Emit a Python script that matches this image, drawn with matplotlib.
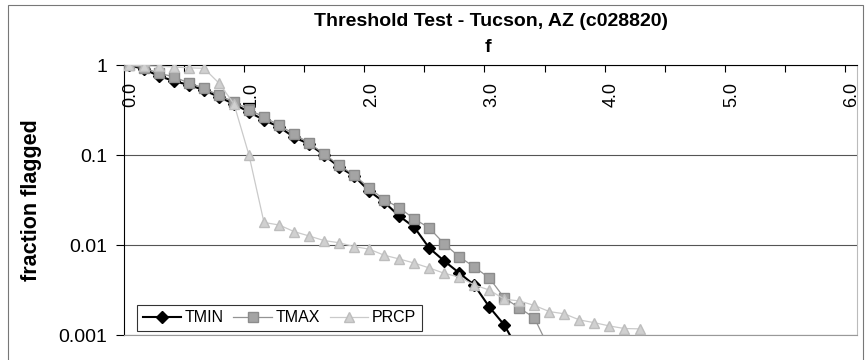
import numpy as np
import matplotlib
matplotlib.use("Agg")
import matplotlib.pyplot as plt
import matplotlib.transforms as mtransforms
from matplotlib.patches import Rectangle

plt.rcParams['font.family'] = ['Liberation Sans', 'DejaVu Sans']

# threshold f, one category every 0.125
f = [0.0, 0.125, 0.25, 0.375, 0.5, 0.625, 0.75, 0.875, 1.0, 1.125,
     1.25, 1.375, 1.5, 1.625, 1.75, 1.875, 2.0, 2.125, 2.25, 2.375,
     2.5, 2.625, 2.75, 2.875, 3.0, 3.125, 3.25, 3.375, 3.5, 3.625,
     3.75, 3.875, 4.0, 4.125, 4.25]

tmin = [1.0, 0.90, 0.755, 0.664, 0.60, 0.527, 0.441, 0.369, 0.30, 0.245,
        0.205, 0.158, 0.132, 0.100, 0.0736, 0.0584, 0.0398, 0.030, 0.021, 0.0158,
        0.00926, 0.00664, 0.00489, 0.00359, 0.00205, 0.00129, 0.00065]

tmax = [1.0, 0.93, 0.81, 0.74, 0.63, 0.555, 0.46, 0.39, 0.32, 0.264,
        0.215, 0.171, 0.136, 0.103, 0.077, 0.060, 0.043, 0.032, 0.026, 0.0195,
        0.0155, 0.0103, 0.0074, 0.0057, 0.0043, 0.00258, 0.0020, 0.00155, 0.0007]

prcp = [1.0, 0.98, 0.97, 0.95, 0.93, 0.92, 0.63, 0.37, 0.10, 0.0178,
        0.0167, 0.0141, 0.0126, 0.0112, 0.0106, 0.0096, 0.0090, 0.0077, 0.0070, 0.0063,
        0.00556, 0.00485, 0.0044, 0.0036, 0.00316, 0.0025, 0.00239, 0.00213, 0.00182, 0.00172,
        0.00147, 0.00137, 0.00126, 0.00118, 0.00117]

yticks = [1, 0.1, 0.01, 0.001]
ytick_labels = ['1', '0.1', '0.01', '0.001']
xticks = [0, 1, 2, 3, 4, 5, 6]
xtick_labels = ['0.0', '1.0', '2.0', '3.0', '4.0', '5.0', '6.0']

# excel puts points in the middle of each category slot
shift = 0.04

fig = plt.figure(figsize=(8.65, 3.6), dpi=100)
ax = fig.add_axes([124/865, 1-335/360, 733/865, 270/360])

fig.patches.append(Rectangle((8/865, -0.05), 855/865, 1-5/360+0.05,
                             transform=fig.transFigure, fill=False,
                             edgecolor='#777777', linewidth=0.8))

x = np.array(f)
ax.plot(x[:len(tmin)] + shift, tmin, color='black', linewidth=1.5, marker='D',
        markersize=6.5, markerfacecolor='black', markeredgecolor='black',
        label='TMIN', zorder=3)
ax.plot(x[:len(tmax)] + shift, tmax, color='#939393', linewidth=0.9, marker='s',
        markersize=6.5, markerfacecolor='#a4a4a4', markeredgecolor='#8c8c8c',
        label='TMAX', zorder=4)
ax.plot(x[:len(prcp)] + shift, prcp, color='#cacaca', linewidth=0.9, marker='^',
        markersize=7.5, markerfacecolor='#d0d0d0', markeredgecolor='#bdbdbd',
        label='PRCP', zorder=5)

ax.set_yscale('log')
ax.set_ylim(0.001, 1)
ax.set_xlim(0, 6.1)
ax.set_yticks(yticks)
ax.set_yticklabels(ytick_labels)
ax.yaxis.set_minor_locator(matplotlib.ticker.NullLocator())
ax.tick_params(axis='y', direction='out', length=6, width=0.8, labelsize=14, pad=6)

ax.xaxis.tick_top()
ax.set_xticks(xticks)
ax.set_xticklabels(xtick_labels)
ax.set_xticks(np.arange(0.5, 6.1, 1.0), minor=True)
ax.tick_params(axis='x', which='both', direction='in', length=5, width=0.8)
ax.tick_params(axis='x', which='major', labelsize=13, labelrotation=90, pad=-12)
offset = mtransforms.ScaledTranslation(5/72, 0, fig.dpi_scale_trans)
for lab in ax.get_xticklabels():
    lab.set_verticalalignment('top')
    lab.set_transform(lab.get_transform() + offset)

ax.grid(axis='y', which='major', color='#555555', linewidth=0.8)
ax.spines['top'].set_color('black')
ax.spines['left'].set_color('black')
ax.spines['bottom'].set_color('#999999')
ax.spines['right'].set_color('#bbbbbb')
ax.spines['bottom'].set_linewidth(0.8)
ax.spines['right'].set_linewidth(0.8)

ax.set_ylabel('fraction flagged', fontsize=15.5, fontweight='bold', labelpad=12)
fig.text(488/865, 1-47/360, 'f', fontsize=14, fontweight='bold', ha='center', va='center')
fig.text(491/865, 1-22/360, 'Threshold Test - Tucson, AZ (c028820)', fontsize=14,
         fontweight='bold', ha='center', va='center')

leg = ax.legend(loc='lower left', bbox_to_anchor=(0.0177, 0.0148), ncol=3,
                fontsize=11.5, frameon=True, fancybox=False, borderaxespad=0,
                handlelength=2.4, handletextpad=0.25, columnspacing=0.6,
                borderpad=0.35)
leg.get_frame().set_edgecolor('black')
leg.get_frame().set_linewidth(0.8)

fig.savefig('out.png', dpi=100)
